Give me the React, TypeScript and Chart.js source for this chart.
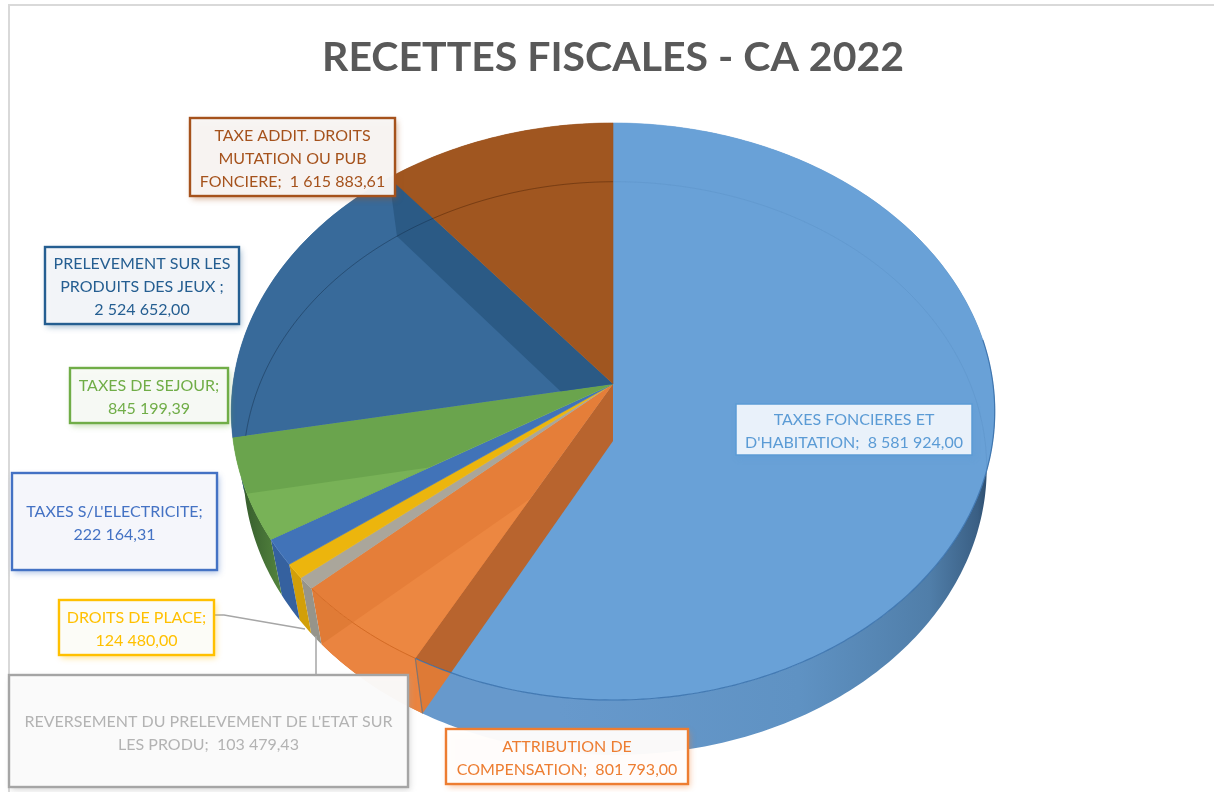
import React, { useEffect, useRef } from "react";
import { Chart, PieController, ArcElement, Title } from "chart.js";

Chart.register(PieController, ArcElement, Title);

const chartTitle = "RECETTES FISCALES - CA 2022";
const categories = [
  "TAXES FONCIERES ET D'HABITATION",
  "ATTRIBUTION DE COMPENSATION",
  "REVERSEMENT DU PRELEVEMENT DE L'ETAT SUR LES PRODU",
  "DROITS DE PLACE",
  "TAXES S/L'ELECTRICITE",
  "TAXES DE SEJOUR",
  "PRELEVEMENT SUR LES PRODUITS DES JEUX",
  "TAXE ADDIT. DROITS MUTATION OU PUB FONCIERE",
];
const values = [8581924.0, 801793.0, 103479.43, 124480.0, 222164.31, 845199.39, 2524652.0, 1615883.61];
const labelLines = [
  ["TAXES FONCIERES ET", "D'HABITATION;  {v}"],
  ["ATTRIBUTION DE", "COMPENSATION;  {v}"],
  ["REVERSEMENT DU PRELEVEMENT DE L'ETAT SUR", "LES PRODU;  {v}"],
  ["DROITS DE PLACE;", "{v}"],
  ["TAXES S/L'ELECTRICITE;", "{v}"],
  ["TAXES DE SEJOUR;", "{v}"],
  ["PRELEVEMENT SUR LES", "PRODUITS DES JEUX ;", "{v}"],
  ["TAXE ADDIT. DROITS", "MUTATION OU PUB", "FONCIERE;  {v}"],
];
const topColors = ["#69a1d7", "#ec8741", "#aaa69b", "#ecb50d", "#4173b8", "#78b257", "#386a9a", "#a05620"];
const wallColors = ["#6496c8", "#e07b36", "#96948a", "#d29f08", "#35619f", "#4d7d3a", "#2b5a85", "#7f4318"];
const lineColors = ["#5b9bd5", "#ed7d31", "#a5a5a5", "#ffc000", "#4472c4", "#70ad47", "#255e91", "#a5521c"];
const textColors = ["#5b9bd5", "#ed7d31", "#b3b3b3", "#ffc000", "#4472c4", "#70ad47", "#255e91", "#a5521c"];
const boxFills = [
  "rgba(240,245,252,0.95)", "rgba(255,255,255,0.95)", "rgba(251,251,251,0.96)", "rgba(252,252,250,0.97)",
  "rgba(247,248,251,0.97)", "rgba(248,250,246,0.97)", "rgba(245,246,249,0.97)", "rgba(248,246,245,0.96)",
];

// [left, top, right, bottom, first line centre]
const boxes = [
  [736, 404, 972, 455, 419],
  [446, 729, 688, 784, 746],
  [9, 675, 408, 787, 721],
  [59, 600, 214, 655, 617],
  [12, 473, 217, 570, 511],
  [70, 368, 228, 423, 385],
  [45, 247, 239, 324, 263],
  [190, 118, 395, 196, 135],
];

// Perspective camera of the disc: both faces are a projection of a unit circle.
const topFace = { ax: 613, x0: 613, y0: 384, d: 380, a: 285.9, c: -0.0953 };
const botFace = { ax: 613, x0: 615, y0: 441, d: 370, a: 284, c: -0.0953 };

const project = (f: any, theta: number) => {
  const u = Math.sin(theta);
  const v = -Math.cos(theta);
  const w = 1 + f.c * v;
  return [f.x0 + (f.d * u) / w, f.y0 + (f.a * v) / w];
};

const rim = (f: any, a0: number, a1: number) => {
  const n = Math.max(2, Math.ceil(Math.abs(a1 - a0) / 0.015));
  const pts: number[][] = [];
  for (let i = 0; i <= n; i++) pts.push(project(f, a0 + ((a1 - a0) * i) / n));
  return pts;
};

const polyPath = (ctx: CanvasRenderingContext2D, pts: number[][]) => {
  ctx.beginPath();
  pts.forEach((p, i) => (i ? ctx.lineTo(p[0], p[1]) : ctx.moveTo(p[0], p[1])));
  ctx.closePath();
};

const openPath = (ctx: CanvasRenderingContext2D, pts: number[][]) => {
  ctx.beginPath();
  pts.forEach((p, i) => (i ? ctx.lineTo(p[0], p[1]) : ctx.moveTo(p[0], p[1])));
};

const sector = (ctx: CanvasRenderingContext2D, f: any, a0: number, a1: number) =>
  polyPath(ctx, [[f.ax, f.y0], ...rim(f, a0, a1)]);

const radialWall = (ctx: CanvasRenderingContext2D, a: number) => {
  const t = project(topFace, a);
  const b = project(botFace, a);
  polyPath(ctx, [[topFace.ax, topFace.y0], t, b, [botFace.ax, botFace.y0]]);
};

const fmt = (n: number) => {
  const [i, d] = n.toFixed(2).split(".");
  return i.replace(/\B(?=(\d{3})+(?!\d))/g, " ") + "," + d;
};

const pie3d = {
  id: "pie3d",
  beforeDraw(chart: any) {
    const ctx = chart.ctx;
    ctx.save();
    ctx.fillStyle = "#ffffff";
    ctx.fillRect(0, 0, chart.width, chart.height);
    ctx.strokeStyle = "#d9d9d9";
    ctx.lineWidth = 2;
    ctx.beginPath();
    ctx.moveTo(9, 792);
    ctx.lineTo(9, 5);
    ctx.lineTo(1214, 5);
    ctx.stroke();
    ctx.restore();
  },
  beforeDatasetDraw(chart: any) {
    const ctx: CanvasRenderingContext2D = chart.ctx;
    const arcs = chart.getDatasetMeta(0).data.map((el: any) => {
      const p = el.getProps(["startAngle", "endAngle"], true);
      return [p.startAngle + Math.PI / 2, p.endAngle + Math.PI / 2];
    });
    ctx.save();

    // outer walls
    const wallGrad = ctx.createLinearGradient(560, 0, 995, 0);
    wallGrad.addColorStop(0, "#6799cc");
    wallGrad.addColorStop(0.55, "#5f92c3");
    wallGrad.addColorStop(0.85, "#507ea9");
    wallGrad.addColorStop(0.96, "#3a5f84");
    wallGrad.addColorStop(1, "#233f5c");
    const greenGrad = ctx.createLinearGradient(240, 0, 290, 0);
    greenGrad.addColorStop(0, "#345a2c");
    greenGrad.addColorStop(1, "#5a8d42");
    arcs.forEach(([a0, a1]: number[], i: number) => {
      polyPath(ctx, [...rim(topFace, a0, a1), ...rim(botFace, a1, a0)]);
      ctx.fillStyle = i === 0 ? wallGrad : i === 5 ? greenGrad : wallColors[i];
      ctx.fill();
    });

    // bottom orange sector seen through the orange wall
    ctx.save();
    polyPath(ctx, [...rim(topFace, arcs[1][0], arcs[1][1]), ...rim(botFace, arcs[1][1], arcs[1][0])]);
    ctx.clip();
    sector(ctx, botFace, arcs[1][0], arcs[1][1]);
    ctx.fillStyle = "#ea8440";
    ctx.fill();
    ctx.restore();

    // radial wall behind the open front cut
    radialWall(ctx, arcs[1][0]);
    ctx.fillStyle = "#de7a36";
    ctx.fill();
    const cutTop = project(topFace, arcs[1][0]);
    const cutBot = project(botFace, arcs[1][0]);
    openPath(ctx, [cutTop, cutBot]);
    ctx.strokeStyle = "rgba(90,110,130,0.7)";
    ctx.lineWidth = 1.2;
    ctx.stroke();

    // top face
    arcs.forEach(([a0, a1]: number[], i: number) => {
      sector(ctx, topFace, a0, a1);
      ctx.fillStyle = topColors[i];
      ctx.strokeStyle = topColors[i];
      ctx.lineWidth = 0.6;
      ctx.fill();
      ctx.stroke();
    });

    // orange and green faces: darker where another slice lies beneath them
    [
      [1, "#e57e39"],
      [5, "#6aa44d"],
    ].forEach(([idx, dark]: any) => {
      ctx.save();
      sector(ctx, topFace, arcs[idx][0], arcs[idx][1]);
      ctx.clip();
      sector(ctx, topFace, arcs[idx][0], arcs[idx][1]);
      ctx.fillStyle = dark;
      ctx.fill();
      sector(ctx, botFace, arcs[idx][0], arcs[idx][1]);
      ctx.fillStyle = topColors[idx];
      ctx.fill();
      ctx.restore();
    });

    // walls seen through the translucent top face
    ctx.save();
    polyPath(ctx, rim(topFace, 0, Math.PI * 2));
    ctx.clip();
    sector(ctx, topFace, arcs[0][0], arcs[0][1]);
    ctx.save();
    ctx.clip();
    radialWall(ctx, arcs[1][0]);
    ctx.fillStyle = "rgba(197,90,17,0.86)";
    ctx.fill();
    ctx.restore();
    ctx.save();
    sector(ctx, topFace, arcs[6][0], arcs[6][1]);
    ctx.clip();
    radialWall(ctx, arcs[6][1]);
    ctx.fillStyle = wallColors[6];
    ctx.fill();
    ctx.restore();
    // hidden back edge of the lower face, on the slices where it shows
    [
      [0, "rgba(50,100,150,0.10)"],
      [6, "rgba(20,45,70,0.45)"],
      [7, "rgba(70,30,5,0.45)"],
    ].forEach(([idx, stroke]: any) => {
      ctx.save();
      sector(ctx, topFace, arcs[idx][0], arcs[idx][1]);
      ctx.clip();
      openPath(ctx, rim(botFace, 0, Math.PI * 2));
      ctx.strokeStyle = stroke;
      ctx.lineWidth = 1;
      ctx.stroke();
      ctx.restore();
    });
    ctx.restore();

    // front edge of the top face
    openPath(ctx, rim(topFace, Math.PI * 0.45, arcs[0][1]));
    ctx.strokeStyle = "rgba(50,105,165,0.75)";
    ctx.lineWidth = 1.2;
    ctx.stroke();
    openPath(ctx, rim(topFace, arcs[1][0], arcs[1][1]));
    ctx.strokeStyle = "rgba(205,100,30,0.8)";
    ctx.lineWidth = 1;
    ctx.stroke();
    ctx.restore();
    return false;
  },
  afterDatasetsDraw(chart: any) {
    const ctx: CanvasRenderingContext2D = chart.ctx;
    ctx.save();
    // leader lines
    ctx.strokeStyle = "#a6a6a6";
    ctx.lineWidth = 1.5;
    ctx.beginPath();
    ctx.moveTo(214, 615);
    ctx.lineTo(224, 615);
    ctx.lineTo(305, 629);
    ctx.moveTo(316, 636);
    ctx.lineTo(316, 675);
    ctx.stroke();

    ctx.font = "16px Lato";
    ctx.textAlign = "center";
    ctx.textBaseline = "middle";
    boxes.forEach((b, i) => {
      const [l, t, r, bt, first] = b;
      ctx.save();
      ctx.shadowColor = lineColors[i] + "70";
      ctx.shadowBlur = 6;
      ctx.shadowOffsetX = 2;
      ctx.shadowOffsetY = 3;
      ctx.fillStyle = boxFills[i];
      ctx.fillRect(l, t, r - l, bt - t);
      ctx.shadowColor = "transparent";
      ctx.strokeStyle = lineColors[i];
      ctx.lineWidth = i === 0 ? 1.5 : 2.4;
      ctx.strokeRect(l, t, r - l, bt - t);
      ctx.restore();
      ctx.fillStyle = textColors[i];
      labelLines[i].forEach((line, k) => {
        ctx.fillText(line.replace("{v}", fmt(values[i])), (l + r) / 2, first + 1 + k * 23);
      });
    });
    ctx.restore();
  },
};

export default function App() {
  const ref = useRef<HTMLCanvasElement>(null);
  useEffect(() => {
    const chart = new Chart(ref.current as HTMLCanvasElement, {
      type: "pie",
      data: {
        labels: categories,
        datasets: [{ data: values, backgroundColor: topColors }],
      },
      options: {
        responsive: false,
        animation: false,
        events: [],
        layout: { padding: { left: 12, right: 0, top: 0, bottom: 0 } },
        plugins: {
          legend: { display: false },
          tooltip: { enabled: false },
          title: {
            display: true,
            text: chartTitle,
            color: "#595959",
            font: { family: "Lato", size: 41, weight: "bold" },
            padding: { top: 33, bottom: 10 },
          },
        },
      },
      plugins: [pie3d],
    } as any);
    return () => chart.destroy();
  }, []);
  return (
    <canvas
      ref={ref}
      width={1214}
      height={792}
      style={{ position: "absolute", left: 0, top: 0, display: "block" }}
    />
  );
}
